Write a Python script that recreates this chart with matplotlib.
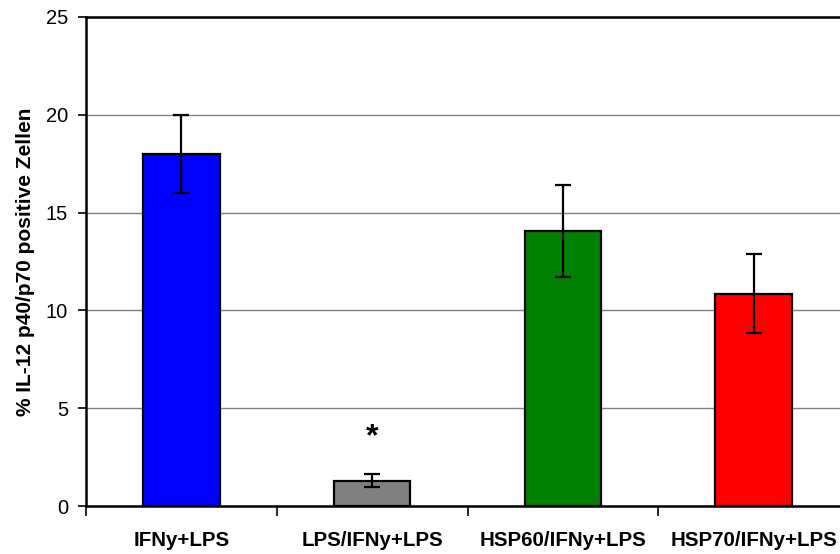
import matplotlib
matplotlib.use("Agg")
import matplotlib.pyplot as plt
import numpy as np

# Data
categories = ["IFNy+LPS", "LPS/IFNy+LPS", "HSP60/IFNy+LPS", "HSP70/IFNy+LPS"]
values = [18.0, 1.3, 14.06, 10.84]
errors = [2.0, 0.34, 2.34, 2.02]
bar_colors = ["#0000FF", "#808080", "#008000", "#FF0000"]
ylabel = "% IL-12 p40/p70 positive Zellen"
y_ticks = [0, 5, 10, 15, 20, 25]
star_label = "*"
star_index = 1
star_y = 3.5

plt.rcParams["font.family"] = ["Liberation Sans", "DejaVu Sans"]

fig = plt.figure(figsize=(8.4, 5.54), dpi=100)
ax = fig.add_axes([86 / 840, 1 - 506 / 554, (849 - 86) / 840, (506 - 17) / 554])

x = np.arange(len(categories))
ax.bar(x, values, width=0.40, color=bar_colors, edgecolor="black",
       linewidth=1.6, zorder=3)
ax.errorbar(x, values, yerr=errors, fmt="none", ecolor="black",
            elinewidth=1.6, capsize=5.5, capthick=1.6, zorder=4)

ax.text(x[star_index], star_y, star_label, ha="center", va="center",
        fontsize=23, fontweight="bold", zorder=5)

ax.set_xlim(-0.5, len(categories) - 0.5)
ax.set_ylim(0, 25)
ax.set_yticks(y_ticks)
ax.set_yticklabels([str(t) for t in y_ticks], fontsize=14.5)
ax.yaxis.grid(True, color="#808080", linewidth=1.0, zorder=0)
ax.set_axisbelow(True)

ax.set_xticks(x)
ax.set_xticklabels(categories, fontsize=14.8, fontweight="bold")
ax.set_xticks(np.arange(-0.5, len(categories)), minor=True)
ax.tick_params(axis="x", which="major", length=0, pad=18)
ax.tick_params(axis="x", which="minor", length=7, width=1.2, direction="out")
ax.tick_params(axis="y", length=6, width=1.2, direction="out", pad=7)

ax.set_ylabel(ylabel, fontsize=15, fontweight="bold", labelpad=8)

for side in ["left", "bottom", "top"]:
    ax.spines[side].set_linewidth(1.8)
    ax.spines[side].set_color("black")
ax.spines["right"].set_visible(False)

fig.savefig("out.png", dpi=100)
